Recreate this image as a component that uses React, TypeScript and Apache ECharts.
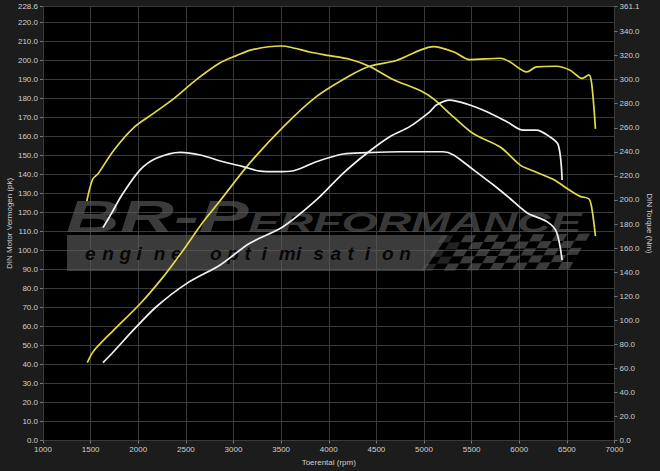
import React, { useEffect, useRef } from "react";
import * as echarts from "echarts";

// ---- Data ----
const xTicks = [1000, 7000, 500]; // min, max, interval (rpm)
const powerAxis = [0, 228.6, 10]; // pk
const torqueAxis = [0, 361.1, 20]; // Nm
const torqueTickValues = [0, 20, 40, 60, 80, 100, 120, 140, 160, 180, 200, 220, 240, 260, 280, 300, 320, 340, 361.1];

const tunedTorqueRpm = [1460, 1520, 1580, 1740, 1950, 2160, 2370, 2610, 2860, 3030, 3200, 3500, 3600, 3800, 4010, 4220, 4430, 4680, 4960, 5100, 5310, 5520, 5800, 6010, 6150, 6360, 6530, 6640, 6730, 6760, 6800];
const tunedTorqueNm = [199, 217, 222, 241, 260, 272, 284, 300, 314, 320, 325, 328, 327, 323, 320, 317, 311, 300, 291, 284, 269, 255, 244, 229, 224, 217, 208, 203, 201, 194, 170];

const tunedPowerRpm = [1465, 1530, 1740, 2020, 2260, 2470, 2680, 2840, 3170, 3520, 3870, 4220, 4430, 4710, 4960, 5100, 5310, 5480, 5800, 5900, 6080, 6180, 6390, 6530, 6660, 6730, 6760, 6800];
const tunedPowerPk = [41, 47, 58, 72, 86, 100, 115, 125, 146, 165, 181, 192, 197, 200, 205.5, 207.3, 204.6, 200.5, 201.2, 199.4, 194, 196.7, 197, 195, 190.6, 192.4, 188, 164];

const stockTorqueRpm = [1630, 1720, 1840, 2020, 2190, 2440, 2650, 2890, 3100, 3280, 3450, 3630, 3870, 4150, 4400, 4750, 5060, 5200, 5310, 5520, 5730, 5900, 6080, 6290, 6390, 6450];
const stockTorqueNm = [177, 189, 205.5, 225, 234.6, 239.6, 237.4, 231.8, 227.7, 224, 223.5, 224.3, 231.8, 238.2, 239.3, 240.1, 240.1, 240.1, 237.4, 225, 212.4, 201.4, 189.4, 182, 173.6, 150];

const stockPowerRpm = [1630, 1740, 1950, 2190, 2510, 2860, 3170, 3520, 3870, 4150, 4400, 4640, 4850, 5060, 5130, 5270, 5450, 5660, 5870, 6040, 6180, 6320, 6410, 6450];
const stockPowerPk = [41, 46.7, 58.2, 70.4, 82.7, 92.4, 103.8, 112.5, 126.6, 140.6, 151.2, 159.9, 165.2, 173, 176.6, 179.2, 177.1, 173, 167.8, 163.4, 163.4, 159.9, 155.5, 137.1];

const xName = "Toerental (rpm)";
const leftName = "DIN Motor Vermogen (pk)";
const rightName = "DIN Torque (Nm)";
const brandBig = "BR-P";
const brandSmall = "ERFORMANCE";
const tagWord1 = "engine";
const tagWord2 = "optimisation";

const FONT = "Liberation Sans, Arial, Helvetica, sans-serif";
const YELLOW = "#e2dc4a";
const WHITE = "#f2f2f2";
const LABEL = "#cfcfcf";
const GRIDC = "#3a3a3a";
const WM = "rgba(95,95,95,0.62)";

const pairs = (xs: number[], ys: number[]) => xs.map((x, i) => [x, ys[i]]);

function buildWatermark() {
  const els: any[] = [];
  els.push({
    type: "polygon",
    z: 1,
    silent: true,
    shape: { points: [[67, 235], [448, 235], [424, 271], [67, 271]] },
    style: { fill: WM },
  });
  const cols = 13, rows = 5;
  const pt = (u: number, v: number) => [442 + u * 11.4 - v * 4.2, 235.5 + v * 7.1 - u * 0.15];
  for (let u = 0; u < cols; u++) {
    for (let v = 0; v < rows; v++) {
      if ((u + v) % 2 !== 0) continue;
      els.push({
        type: "polygon",
        z: 1,
        silent: true,
        shape: { points: [pt(u, v), pt(u + 1, v), pt(u + 1, v + 1), pt(u, v + 1)] },
        style: { fill: WM, opacity: u < 2 ? 0.6 : 1 },
      });
    }
  }
  els.push({
    type: "group",
    x: 66,
    y: 0,
    scaleX: 1.66,
    z: 1,
    silent: true,
    children: [
      {
        type: "text",
        z: 1,
        x: 0,
        y: 216,
        style: { text: brandBig, fill: WM, font: `italic bold 45px ${FONT}`, verticalAlign: "middle", align: "left" },
      },
      {
        type: "text",
        z: 1,
        x: 110,
        y: 222,
        style: { text: brandSmall, fill: WM, font: `italic bold 28px ${FONT}`, verticalAlign: "middle", align: "left" },
      },
    ],
  });
  const pitch = 17.2;
  tagWord1.split("").forEach((ch, i) => {
    els.push({
      type: "text", z: 2, silent: true, x: 85 + i * pitch, y: 253,
      style: { text: ch, fill: "rgba(0,0,0,0.9)", font: `italic bold 19px ${FONT}`, verticalAlign: "middle", align: "left" },
    });
  });
  tagWord2.split("").forEach((ch, i) => {
    els.push({
      type: "text", z: 2, silent: true, x: 210 + i * pitch, y: 253,
      style: { text: ch, fill: "rgba(0,0,0,0.9)", font: `italic bold 19px ${FONT}`, verticalAlign: "middle", align: "left" },
    });
  });
  return els;
}

export default function App() {
  const ref = useRef<HTMLDivElement>(null);
  useEffect(() => {
    if (!ref.current) return;
    const chart = echarts.init(ref.current, undefined, { renderer: "svg" });
    const axisLabel = { color: LABEL, fontSize: 8, fontFamily: FONT };
    const lineSeries = (name: string, data: number[][], color: string, yAxisIndex: number) => ({
      name,
      type: "line",
      data,
      yAxisIndex,
      showSymbol: false,
      smooth: 0.3,
      z: 5,
      lineStyle: { color, width: 1.7 },
    });
    chart.setOption({
      animation: false,
      backgroundColor: "#1c1c1c",
      textStyle: { fontFamily: FONT },
      grid: {
        left: 43,
        right: 45.5,
        top: 6.2,
        bottom: 30.5,
        show: true,
        backgroundColor: "#000",
        borderWidth: 0,
        containLabel: false,
        outerBoundsMode: "none",
      },
      xAxis: {
        type: "value",
        min: xTicks[0],
        max: xTicks[1],
        interval: xTicks[2],
        name: xName,
        nameLocation: "middle",
        nameGap: 18,
        nameTextStyle: { color: LABEL, fontSize: 8, fontFamily: FONT },
        axisLine: { show: true, lineStyle: { color: GRIDC } },
        axisTick: { show: true, length: 3, lineStyle: { color: "#777" } },
        axisLabel: { ...axisLabel, margin: 5, formatter: (v: number) => String(v) },
        splitLine: { show: true, lineStyle: { color: GRIDC, width: 1 } },
      },
      yAxis: [
        {
          type: "value",
          min: powerAxis[0],
          max: powerAxis[1],
          interval: powerAxis[2],
          position: "left",
          name: leftName,
          nameLocation: "middle",
          nameGap: 30,
          nameMoveOverlap: false,
          nameTextStyle: { color: LABEL, fontSize: 8, fontFamily: FONT },
          axisLine: { show: false },
          axisTick: { show: true, length: 3, lineStyle: { color: "#777" } },
          axisLabel: { ...axisLabel, margin: 5, formatter: (v: number) => v.toFixed(1) },
          splitLine: { show: true, lineStyle: { color: GRIDC, width: 1 } },
        },
        {
          type: "value",
          min: torqueAxis[0],
          max: torqueAxis[1],
          interval: torqueAxis[2],
          position: "right",
          name: rightName,
          nameLocation: "middle",
          nameGap: 31,
          nameMoveOverlap: false,
          nameRotate: -90,
          nameTextStyle: { color: LABEL, fontSize: 8, fontFamily: FONT },
          axisLine: { show: false },
          axisTick: { show: true, length: 3, lineStyle: { color: "#777" }, customValues: torqueTickValues },
          axisLabel: { ...axisLabel, margin: 5, customValues: torqueTickValues, formatter: (v: number) => v.toFixed(1) },
          splitLine: { show: false },
        },
      ],
      graphic: buildWatermark(),
      series: [
        lineSeries("Tuned torque", pairs(tunedTorqueRpm, tunedTorqueNm), YELLOW, 1),
        lineSeries("Tuned power", pairs(tunedPowerRpm, tunedPowerPk), YELLOW, 0),
        lineSeries("Stock torque", pairs(stockTorqueRpm, stockTorqueNm), WHITE, 1),
        lineSeries("Stock power", pairs(stockPowerRpm, stockPowerPk), WHITE, 0),
      ],
    });
    return () => chart.dispose();
  }, []);
  return (
    <div
      ref={ref}
      style={{ position: "fixed", left: 0, top: 0, width: 660, height: 471, background: "#1c1c1c" }}
    />
  );
}
